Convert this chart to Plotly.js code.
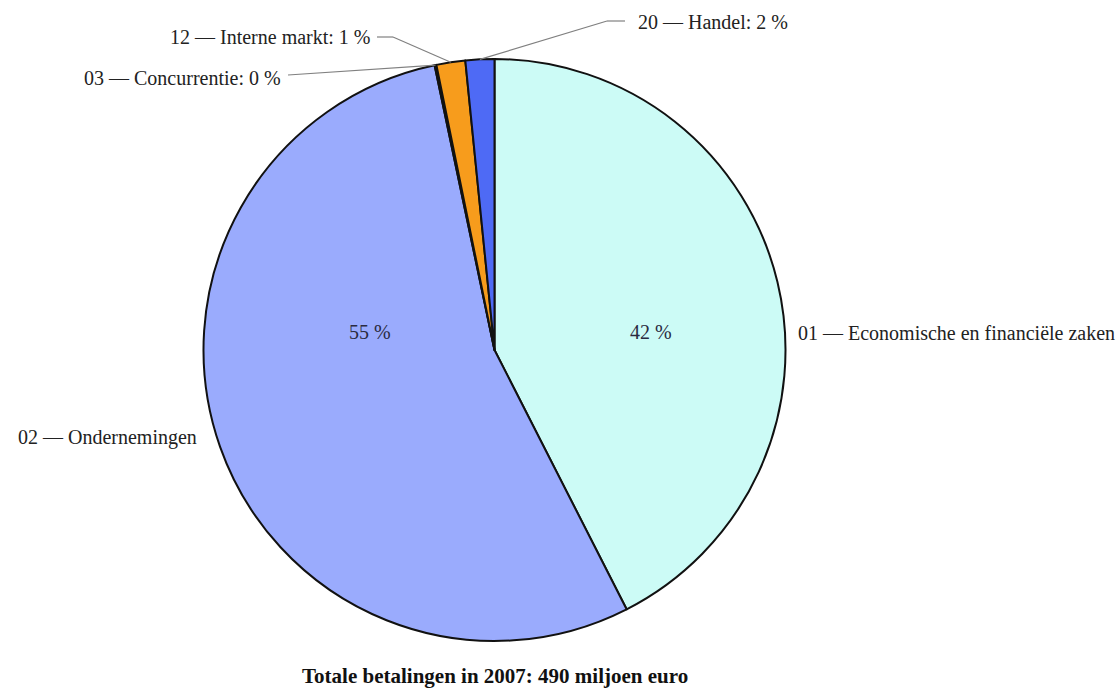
<!DOCTYPE html>
<html>
<head>
<meta charset="utf-8">
<script src="https://cdn.plot.ly/plotly-3.0.1.min.js"></script>
<style>html,body{margin:0;padding:0;background:#fff;overflow:hidden;}#chart{width:1120px;height:689px;}</style>
</head>
<body>
<div id="chart"></div>
<script>
// Data
const codes = ["01", "02", "03", "12", "20"];
const categories = ["Economische en financiële zaken", "Ondernemingen", "Concurrentie", "Interne markt", "Handel"];
const shares = [42.5, 54.2, 0.1, 1.6, 1.6];           // share of slice (%)
const labelPercents = ["42 %", "55 %", "0 %", "1 %", "2 %"]; // printed percentages
const sliceColors = ["#ccfbf6", "#9aabfd", "#6f7fe0", "#f79c1c", "#4e6af5"];
const titleText = "Totale betalingen in 2007: 490 miljoen euro";

const W = 1120, H = 689;
const CX = 494.5, CY = 350, R = 291;
const FONT = "Liberation Serif, Times New Roman, serif";
const TXT = "#222";
const FS = 20;

const total = shares.reduce((a, b) => a + b, 0);
// mid-angle (degrees clockwise from top) of each slice
const mids = [];
let acc = 0;
shares.forEach(v => { mids.push((acc + v / 2) / total * 360); acc += v; });
const edgePt = (i, f) => {
  const a = mids[i] * Math.PI / 180;
  return [CX + f * R * Math.sin(a), CY - f * R * Math.cos(a)];
};
const px = x => x / W, py = y => 1 - y / H;

const trace = {
  type: "pie",
  labels: codes.map((c, i) => c + " — " + categories[i]),
  values: shares,
  sort: false,
  direction: "clockwise",
  rotation: 0,
  textinfo: "none",
  hoverinfo: "label+percent",
  marker: { colors: sliceColors, line: { color: "#111", width: 2 } },
  domain: { x: [px(CX - R), px(CX + R)], y: [py(CY + R), py(CY - R)] },
  showlegend: false
};

const annotations = [];
const shapes = [];
const lineStyle = { color: "#808080", width: 1.2 };

// 01 and 02: plain labels beside the pie
annotations.push({ xref: "paper", yref: "paper", x: px(796), y: py(333), xanchor: "left", yanchor: "middle",
  text: codes[0] + " — " + categories[0], showarrow: false, font: { family: FONT, size: FS, color: TXT } });
annotations.push({ xref: "paper", yref: "paper", x: px(199), y: py(437), xanchor: "right", yanchor: "middle",
  text: codes[1] + " — " + categories[1], showarrow: false, font: { family: FONT, size: FS, color: TXT } });

// Inside percentages
annotations.push({ xref: "paper", yref: "paper", x: px(651), y: py(332), xanchor: "center", yanchor: "middle",
  text: labelPercents[0], showarrow: false, font: { family: FONT, size: FS, color: "#2a2a40" } });
annotations.push({ xref: "paper", yref: "paper", x: px(370), y: py(332), xanchor: "center", yanchor: "middle",
  text: labelPercents[1], showarrow: false, font: { family: FONT, size: FS, color: "#2a2a40" } });

// Small slices with leader lines
const small = [
  { i: 2, tx: 283, ty: 78, anchor: "right", stub: [288, 75, 288, 75] },
  { i: 3, tx: 373, ty: 37, anchor: "right", stub: [377, 37, 393, 37] },
  { i: 4, tx: 636, ty: 22, anchor: "left", stub: [625, 21, 607, 21] }
];
small.forEach(s => {
  annotations.push({ xref: "paper", yref: "paper", x: px(s.tx), y: py(s.ty), xanchor: s.anchor, yanchor: "middle",
    text: codes[s.i] + " — " + categories[s.i] + ": " + labelPercents[s.i], showarrow: false,
    font: { family: FONT, size: FS, color: TXT } });
  const [ex, ey] = edgePt(s.i, 1.0);
  if (s.stub[0] !== s.stub[2]) {
    shapes.push({ type: "line", xref: "paper", yref: "paper", x0: px(s.stub[0]), y0: py(s.stub[1]),
      x1: px(s.stub[2]), y1: py(s.stub[3]), line: lineStyle });
  }
  shapes.push({ type: "line", xref: "paper", yref: "paper", x0: px(s.stub[2]), y0: py(s.stub[3]),
    x1: px(ex), y1: py(ey), line: lineStyle });
});

// Title at bottom
annotations.push({ xref: "paper", yref: "paper", x: px(495), y: py(676), xanchor: "center", yanchor: "middle",
  text: "<b>" + titleText + "</b>", showarrow: false, font: { family: FONT, size: 21, color: "#111" } });

const layout = {
  width: W, height: H,
  margin: { l: 0, r: 0, t: 0, b: 0 },
  paper_bgcolor: "#fff", plot_bgcolor: "#fff",
  showlegend: false,
  annotations: annotations,
  shapes: shapes
};

Plotly.newPlot("chart", [trace], layout, { displayModeBar: false, staticPlot: true });
</script>
</body>
</html>
